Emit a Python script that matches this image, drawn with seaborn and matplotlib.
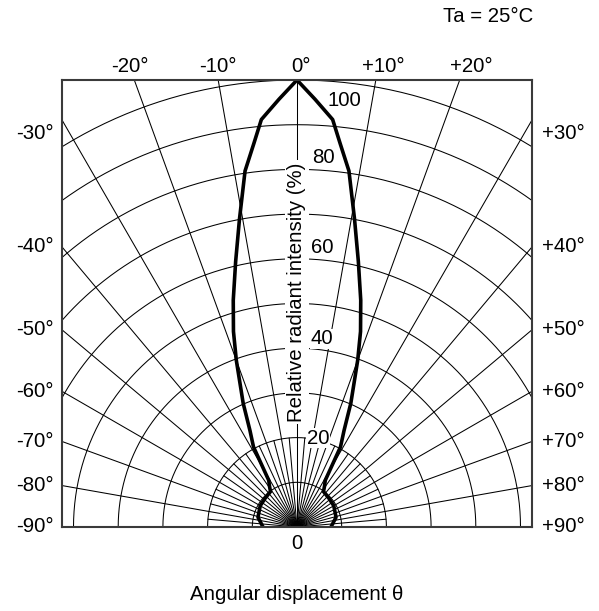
import numpy as np
import matplotlib
matplotlib.use("Agg")
import matplotlib.pyplot as plt
import seaborn as sns

sns.set_style("white")
plt.rcParams['font.family'] = ['Liberation Sans', 'DejaVu Sans']
plt.rcParams['text.color'] = 'black'

# radiation pattern (symmetric about 0 deg)
angle_deg = [0, 2.4, 5, 6.4, 8.3, 10.6, 13, 15.7, 18, 20, 23.5, 26, 28.5,
             31.2, 34, 36.8, 48, 60, 76, 90]
intensity = [100, 95.8, 91.5, 86.4, 80.5, 70, 61, 52.7, 46, 39.7, 30.2, 24,
             20.4, 12.2, 11.0, 9.9, 9.6, 9.5, 9.0, 7.6]

top_angles = [-20, -10, 0, 10, 20]
side_angles = [30, 40, 50, 60, 70, 80, 90]
ring_labels = ['20', '40', '60', '80', '100']

W, H = 599, 611
fig = plt.figure(figsize=(W / 100, H / 100), dpi=100)
ax = fig.add_axes([62 / W, 84 / H, 470 / W, 447 / H])
hw = 235 / 447 * 100
ax.set_xlim(-hw, hw)
ax.set_ylim(0, 100)
ax.set_xticks([])
ax.set_yticks([])
for s in ax.spines.values():
    s.set_color('#3a3a3a')
    s.set_linewidth(1.5)
    s.set_zorder(5)

# polar grid
t = np.radians(np.linspace(-90, 90, 361))
for r in range(10, 101, 10):
    ax.plot(r * np.sin(t), r * np.cos(t), color='black', lw=0.75, zorder=1)
for a in range(-90, 91, 10):
    ar = np.radians(a)
    ax.plot([0, 200 * np.sin(ar)], [0, 200 * np.cos(ar)], color='black', lw=0.75, zorder=1)
for a in range(-85, 90, 10):
    ar = np.radians(a)
    ax.plot([0, 20 * np.sin(ar)], [0, 20 * np.cos(ar)], color='black', lw=0.75, zorder=1)

# curve
th = [-a for a in reversed(angle_deg)] + angle_deg[1:]
rr = list(reversed(intensity)) + intensity[1:]
th = np.radians(th)
rr = np.array(rr)
sns.lineplot(x=rr * np.sin(th), y=rr * np.cos(th), sort=False, estimator=None,
             color='black', linewidth=2.6, ax=ax, zorder=4)

fs = 14.7
for a in top_angles:
    lab = '0°' if a == 0 else f'{a:+d}°'
    ax.text(105 * np.tan(np.radians(a)) + 0.8, 103.1, lab, ha='center', va='center', fontsize=fs)

for a in side_angles:
    ar = np.radians(a)
    y = min(hw * np.cos(ar) / np.sin(ar), 88.0)
    ax.text(-hw - 1.8, y, f'-{a}°', ha='right', va='center', fontsize=fs)
    ax.text(hw + 2.2, y, f'+{a}°', ha='left', va='center', fontsize=fs)

box = dict(facecolor='white', edgecolor='none', pad=0.5)
pos = [(2.2, 19.9), (3.0, 42.1), (3.2, 62.5), (3.4, 82.7), (6.9, 95.5)]
for lab, (x, y) in zip(ring_labels, pos):
    ax.text(x, y, lab, ha='left', va='center', fontsize=fs, bbox=box, zorder=3)

ax.text(0, 52.6, 'Relative radiant intensity (%)', rotation=90, ha='center',
        va='center', fontsize=fs, bbox=dict(facecolor='white', edgecolor='none', pad=1.5),
        zorder=3)
ax.text(0, -3.6, '0', ha='center', va='center', fontsize=fs)

fig.text(297 / W, 1 - 595 / H, 'Angular displacement θ', ha='center', va='center', fontsize=fs)
fig.text(533 / W, 1 - 17 / H, 'Ta = 25°C', ha='right', va='center', fontsize=fs)

fig.savefig('out.png', dpi=100)
